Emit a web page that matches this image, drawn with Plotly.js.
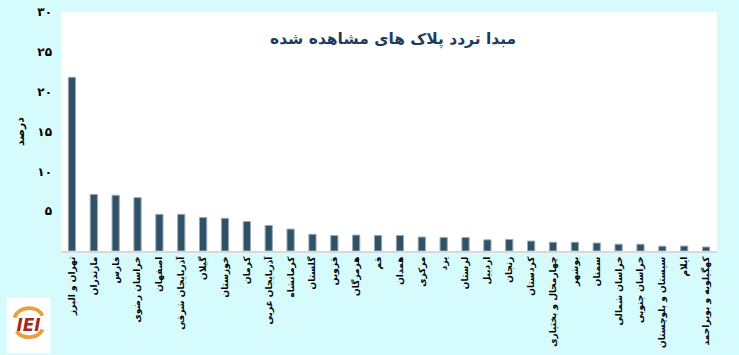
<!DOCTYPE html>
<html><head><meta charset="utf-8">
<script src="https://cdn.plot.ly/plotly-3.0.1.min.js"></script>
<style>html,body{margin:0;padding:0;background:#d6fbfd;}</style>
</head><body>
<div id="chart" style="width:739px;height:355px;"></div>
<script>
const categories = ["تهران و البرز","مازندران","فارس","خراسان رضوی","اصفهان","آذربایجان شرقی","گیلان","خوزستان","کرمان","آذربایجان غربی","کرمانشاه","گلستان","قزوین","هرمزگان","قم","همدان","مرکزی","یزد","لرستان","اردبیل","زنجان","کردستان","چهارمحال و بختیاری","بوشهر","سمنان","خراسان شمالی","خراسان جنوبی","سیستان و بلوچستان","ایلام","کهگیلویه و بویراحمد"];
const values = [21.8,7.1,7.0,6.7,4.6,4.6,4.2,4.1,3.7,3.2,2.75,2.1,1.95,2.0,1.95,1.95,1.75,1.7,1.7,1.4,1.45,1.25,1.1,1.1,1.0,0.85,0.85,0.6,0.62,0.5];
const yTickVals = [5,10,15,20,25,30];
const yTickText = ["۵","۱۰","۱۵","۲۰","۲۵","۳۰"];
const titleText = "مبدا تردد پلاک های مشاهده شده";
const yTitle = "درصد";

const logoSvg = '<svg xmlns="http://www.w3.org/2000/svg" width="44" height="56" viewBox="0 0 44 56">' +
 '<rect width="44" height="56" fill="#ffffff"/>' +
 '<path d="M8 20 A15 13 0 0 1 36 18" stroke="#e8a040" stroke-width="4" fill="none"/>' +
 '<path d="M10 34 A15 13 0 0 0 36 32" stroke="#e8a040" stroke-width="4" fill="none"/>' +
 '<text x="22" y="33" font-family="DejaVu Sans" font-weight="bold" font-style="italic" font-size="17" fill="#a52a1e" text-anchor="middle">IEI</text>' +
 '</svg>';

const trace = {
  type: 'bar',
  x: categories,
  y: values,
  marker: {color: '#2e5268', line: {color: '#9aaab5', width: 1}},
  width: 0.33,
  hoverinfo: 'x+y'
};

const layout = {
  width: 739, height: 355,
  paper_bgcolor: '#d6fbfd',
  plot_bgcolor: '#ffffff',
  margin: {l: 61, r: 22, t: 12, b: 104},
  showlegend: false,
  annotations: [{
    text: titleText, xref: 'paper', yref: 'paper', x: 0.506, y: 0.885,
    xanchor: 'center', yanchor: 'middle', showarrow: false,
    font: {family: 'DejaVu Sans', size: 15.5, color: '#1f3b5c', weight: 'bold'}
  }],
  xaxis: {
    type: 'category', tickangle: -90, showgrid: false, zeroline: false,
    showline: true, linecolor: '#d9d9d9', linewidth: 2, ticks: '',
    tickfont: {family: 'DejaVu Sans', size: 9, color: '#000000', weight: 'bold'},
    range: [-0.5, 29.5]
  },
  yaxis: {
    range: [0, 30], tickvals: yTickVals, ticktext: yTickText,
    showgrid: false, zeroline: false, showline: false, ticks: '',
    ticklabelstandoff: 8,
    tickfont: {family: 'DejaVu Sans', size: 12, color: '#000000', weight: 'bold'},
    title: {text: yTitle, standoff: 10, font: {family: 'DejaVu Sans', size: 11, color: '#000000', weight: 'bold'}}
  },
  images: [{
    source: 'data:image/svg+xml;charset=utf-8,' + encodeURIComponent(logoSvg),
    xref: 'paper', yref: 'paper', x: -0.083, y: -0.195, sizex: 0.067, sizey: 0.234,
    xanchor: 'left', yanchor: 'top', sizing: 'stretch', layer: 'above'
  }]
};

Plotly.newPlot('chart', [trace], layout, {displayModeBar: false, staticPlot: true});
</script>
</body></html>
